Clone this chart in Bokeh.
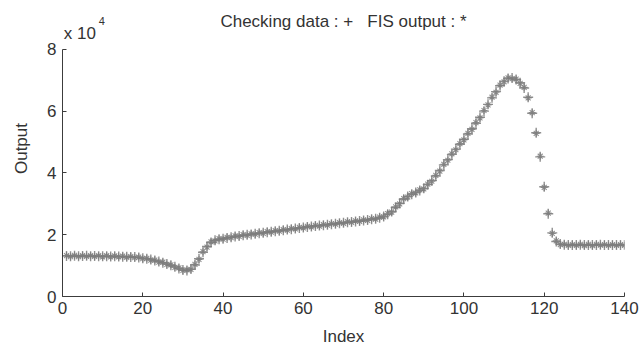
from bokeh.plotting import figure
from bokeh.models import Range1d, FixedTicker, CustomJSTickFormatter, Label, ColumnDataSource
from bokeh.embed import file_html
from bokeh.resources import INLINE

index = list(range(1, 141))

checking_data = [
    13100, 13050, 13150, 13050, 13100, 13150, 13050, 13100, 13050, 13000,
    13050, 12950, 13000, 12950, 12900, 12850, 12800, 12750, 12600, 12400,
    12200, 11950, 11650, 11300, 10950, 10550, 10100, 9600, 9100, 8600,
    8400, 8900, 10200, 12200, 14300, 16200, 17500, 18200, 18500, 18700,
    18950, 19200, 19400, 19600, 19800, 19950, 20100, 20300, 20450, 20600,
    20800, 20950, 21100, 21300, 21450, 21650, 21800, 22000, 22150, 22350,
    22500, 22650, 22800, 22950, 23100, 23250, 23400, 23550, 23700, 23850,
    24000, 24150, 24300, 24450, 24600, 24800, 25000, 25200, 25500, 25900,
    26600, 27500, 28800, 30200, 31500, 32400, 33100, 33700, 34300, 35000,
    36200, 37500, 39000, 40800, 42600, 44300, 46000, 47700, 49300, 50900,
    52600, 54300, 56100, 58000, 60000, 62200, 64300, 66300, 68200, 69700,
    70600, 70700, 70200, 69200, 67500, 64500, 59300, 53000, 45200, 35500,
    26800, 20600, 17800, 17000, 16750, 16700, 16650, 16700, 16750, 16650,
    16700, 16650, 16700, 16750, 16650, 16700, 16650, 16700, 16650, 16700,
]

fis_output = [
    13250, 12900, 13300, 12900, 13250, 13000, 13200, 12950, 13200, 12850,
    13200, 12800, 13150, 12800, 13050, 12700, 12950, 12600, 12750, 12250,
    12350, 11800, 11800, 11150, 11100, 10400, 10250, 9450, 9250, 8450,
    8600, 8750, 10400, 12000, 14500, 16000, 17700, 18000, 18700, 18550,
    19150, 19050, 19600, 19450, 20000, 19800, 20300, 20150, 20650, 20450,
    21000, 20800, 21300, 21150, 21650, 21500, 22000, 21850, 22350, 22200,
    22700, 22500, 23000, 22800, 23300, 23100, 23600, 23400, 23900, 23700,
    24200, 24000, 24500, 24300, 24800, 24650, 25200, 25050, 25700, 25750,
    26800, 27300, 29000, 30000, 31700, 32200, 33300, 33500, 34500, 34800,
    36400, 37300, 39200, 40600, 42800, 44100, 46200, 47500, 49500, 50700,
    52800, 54100, 56300, 57800, 60200, 62000, 64500, 66100, 68400, 69500,
    70800, 70500, 70400, 69000, 67700, 64300, 59500, 52800, 45400, 35300,
    27000, 20400, 18000, 16800, 16900, 16550, 16800, 16550, 16900, 16500,
    16850, 16500, 16850, 16600, 16800, 16550, 16800, 16550, 16800, 16550,
]

x_ticks = [0, 20, 40, 60, 80, 100, 120, 140]
y_ticks = [0, 20000, 40000, 60000, 80000]

NBSP = "\u00a0"
title_text = "Checking data : +" + NBSP * 3 + "FIS output : *"
x_label = "Index"
y_label = "Output"

FONT = "Liberation Sans"
GRAY = "#7c7c7c"
TXT = "#333333"

# 248 px of frame per 80000 units -> frame extends up to the canvas top (297 px)
UNITS_PER_PX = 80000 / 248.0
Y_TOP = 297 * UNITS_PER_PX

src = ColumnDataSource(dict(x=index, chk=checking_data, fis=fis_output))

p = figure(width=640, height=348, output_backend="svg", toolbar_location=None,
           x_range=Range1d(0, 140), y_range=Range1d(0, Y_TOP),
           min_border_left=62, min_border_right=16, min_border_top=0,
           min_border_bottom=51)

p.xgrid.visible = False
p.ygrid.visible = False
p.outline_line_color = None
p.background_fill_color = "white"
p.border_fill_color = "white"

p.scatter("x", "chk", source=src, marker="cross", size=10, line_width=1.4,
          line_color=GRAY, line_alpha=0.85)
p.scatter("x", "fis", source=src, marker="asterisk", size=7, line_width=1.1,
          line_color=GRAY, line_alpha=0.85)

for ax in (p.xaxis[0], p.yaxis[0]):
    ax.major_tick_in = 4
    ax.major_tick_out = 0
    ax.minor_tick_line_color = None
    ax.axis_line_color = "#3c3c3c"
    ax.major_tick_line_color = "#3c3c3c"
    ax.major_label_text_font = FONT
    ax.major_label_text_font_size = "17px"
    ax.major_label_text_color = TXT
    ax.axis_label_text_font = FONT
    ax.axis_label_text_font_size = "17px"
    ax.axis_label_text_font_style = "normal"
    ax.axis_label_text_color = TXT

p.yaxis.bounds = (0, 80000)
p.xaxis.ticker = FixedTicker(ticks=x_ticks)
p.yaxis.ticker = FixedTicker(ticks=y_ticks)
p.yaxis.formatter = CustomJSTickFormatter(code="return (tick/10000).toFixed(0);")
p.xaxis.axis_label = x_label
p.yaxis.axis_label = y_label
p.xaxis.major_label_standoff = 5
p.yaxis.major_label_standoff = 6
p.xaxis.axis_label_standoff = 10
p.yaxis.axis_label_standoff = 13

p.add_layout(Label(x=70, y=276 * UNITS_PER_PX, text=title_text, text_align="center",
                   text_baseline="middle", text_font=FONT,
                   text_font_size="17px", text_color=TXT))
p.add_layout(Label(x=0.3, y=264 * UNITS_PER_PX, text="x 10", text_align="left",
                   text_baseline="middle", text_font=FONT,
                   text_font_size="17px", text_color=TXT))
p.add_layout(Label(x=9.0, y=276 * UNITS_PER_PX, text="4", text_align="left",
                   text_baseline="middle", text_font=FONT,
                   text_font_size="11px", text_color=TXT))

open("out.html", "w").write(file_html(p, INLINE))
